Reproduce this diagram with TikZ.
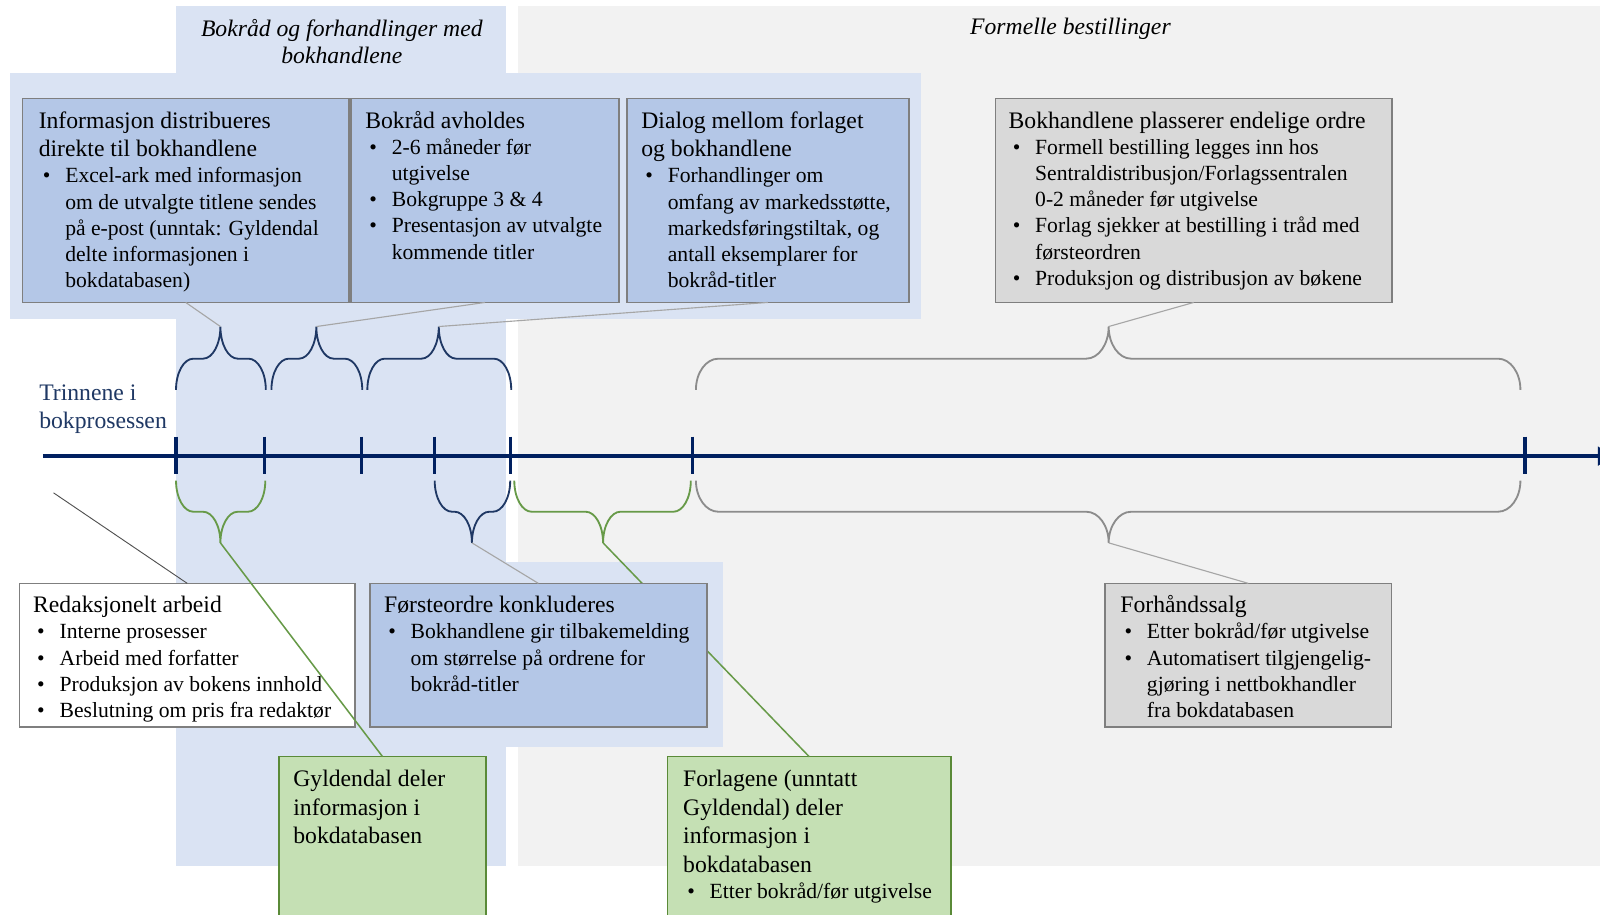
\documentclass[tikz,border=0pt]{standalone}
\usepackage{fontspec}
\setmainfont{Liberation Serif}
\usetikzlibrary{arrows.meta}
\definecolor{bgblue}{HTML}{DAE3F3}
\definecolor{boxblue}{HTML}{B4C7E7}
\definecolor{bggray}{HTML}{F2F2F2}
\definecolor{boxgray}{HTML}{D9D9D9}
\definecolor{boxgreen}{HTML}{C5E0B4}
\definecolor{grnborder}{HTML}{5A8A38}
\definecolor{grnline}{HTML}{679A48}
\definecolor{tlnavy}{HTML}{002060}
\definecolor{brnavy}{HTML}{1F3864}
\definecolor{bordergray}{HTML}{7F7F7F}
\definecolor{linegray}{HTML}{A6A6A6}
\definecolor{bracegray}{HTML}{8C8C8C}
\definecolor{darkline}{HTML}{505050}
\newcommand\tfnt{\fontsize{23.2pt}{28pt}\selectfont}
\newcommand\bfnt{\fontsize{21.2pt}{25.6pt}\selectfont}
\newcommand\TLine[1]{\baselineskip=28pt\relax\hbox{\tfnt #1}}
\newcommand\BLine[1]{\baselineskip=25.7pt\relax\hbox{\bfnt\makebox[26pt][l]{\hspace{4pt}\textbullet}#1}}
\newcommand\CLine[1]{\baselineskip=25.7pt\relax\hbox{\bfnt\hspace*{26pt}#1}}
\newcommand\brc[9]{%
  \draw[#9] (#1,#4) .. controls (#1,{#4+0.552*(#5-#4)}) and ({#1+0.448*#7},#5) .. ({#1+#7},#5)
    -- ({#2-#7},#5) .. controls ({#2-0.448*#7},#5) and (#2,{#6+0.552*(#5-#6)}) .. (#2,#6)
    .. controls (#2,{#6+0.552*(#5-#6)}) and ({#2+0.448*#7},#5) .. ({#2+#7},#5)
    -- ({#3-#7},#5) .. controls ({#3-0.448*#7},#5) and (#3,{#4+0.552*(#5-#4)}) .. (#3,#4);
  \coordinate (#8) at (#2,#6);}
\tikzset{
  boxsty/.style={draw=bordergray, line width=1.6pt, anchor=north west, inner sep=0pt, outer sep=0pt},
  bluebox/.style={boxsty, fill=boxblue},
  graybox/.style={boxsty, fill=boxgray},
  whitebox/.style={boxsty, fill=white},
  greenbox/.style={boxsty, draw=grnborder, fill=boxgreen},
  txt/.style={anchor=base west, inner sep=0pt, outer sep=0pt},
  navybrace/.style={draw=brnavy, line width=1.8pt},
  greenbrace/.style={draw=grnline, line width=1.8pt},
  graybrace/.style={draw=bracegray, line width=1.8pt},
  conn/.style={draw=linegray, line width=1.1pt},
  gconn/.style={draw=grnline, line width=1.5pt},
  darkconn/.style={draw=darkline, line width=0.9pt},
  tick/.style={draw=tlnavy, line width=3.2pt},
}
\begin{document}
\begin{tikzpicture}[x=1pt, y=-1pt]
\useasboundingbox (0,0) rectangle (1568,896);
\clip (0,0) rectangle (1568,896);
\fill[white] (0,0) rectangle (1568,896);
% backgrounds
\fill[bggray] (508,6) rectangle (1568,848.4);
\fill[bgblue] (172.5,6) rectangle (496.3,848.4);
\fill[bgblue] (9.6,72) rectangle (902.6,313);
\fill[bgblue] (480,551) rectangle (708.7,731.7);
% headings
\node[anchor=base, inner sep=0pt] (h1) at (335,35.3)
  {\vtop{\baselineskip=27.4pt\halign{\hfil#\hfil\cr\tfnt\itshape Bokråd og forhandlinger med\cr\tfnt\itshape bokhandlene\cr}}};
\node[anchor=base, inner sep=0pt] (h2) at (1049,33.6) {\tfnt\itshape Formelle bestillinger};
\node[txt, text=brnavy] (trinn) at (38.5,392)
  {\vtop{\TLine{Trinnene i}\TLine{bokprosessen}}};
% timeline
\coordinate (tl0) at (42,447);
\coordinate (tl1) at (1580,447);
\draw[tlnavy, line width=4.2pt, -{Triangle[width=18pt,length=14pt]}] (tl0) -- (tl1);
\foreach \x in {172.5,259.5,354.5,426,500,679,1494.5}
  \draw[tick] (\x,428) -- (\x,464.5);
% braces
\brc{172.5}{216}{260.5}{382}{351.5}{320}{17}{u1}{navybrace}
\brc{266}{310}{355}{382}{351.5}{320}{17}{u2}{navybrace}
\brc{360}{430}{501}{382}{351.5}{320}{17}{u3}{navybrace}
\brc{682}{1086.5}{1490}{382}{351.5}{320}{22}{u4}{graybrace}
\brc{172.5}{216}{260}{471}{501.5}{532}{17}{d1}{greenbrace}
\brc{426}{462.5}{500}{471}{501.5}{532}{17}{d2}{navybrace}
\brc{504}{591}{677}{471}{501.5}{532}{17}{d3}{greenbrace}
\brc{682}{1086.5}{1490}{471}{501.5}{532}{22}{d4}{graybrace}
% top boxes
\node[bluebox, minimum width=320pt, minimum height=200pt] (bA) at (22,96.4) {};
\node[bluebox, minimum width=262.6pt, minimum height=200pt] (bB) at (344,96.4) {};
\node[bluebox, minimum width=276.3pt, minimum height=200pt] (bC) at (614.3,96.4) {};
\node[graybox, minimum width=388.3pt, minimum height=200pt] (bD) at (975.7,96.4) {};
\draw[conn] (bA.south) -- (u1);
\draw[conn] (bB.south) -- (u2);
\draw[conn] (bC.south) -- (u3);
\draw[conn] (bD.south) -- (u4);
% lower boxes
\node[greenbox, minimum width=278pt, minimum height=200pt] (bL) at (654,741.5) {};
\draw[gconn] (d3) -- (bL.north);
\node[bluebox, minimum width=330.4pt, minimum height=141pt] (bF) at (362.4,571.7) {};
\draw[conn] (d2) -- (bF.north);
\node[whitebox, minimum width=329pt, minimum height=141pt] (bR) at (19,571.7) {};
\coordinate (rfree) at (52.5,483);
\draw[darkconn] (rfree) -- (bR.north);
\node[greenbox, minimum width=203pt, minimum height=200pt] (bG) at (273.4,741.5) {};
\draw[gconn] (d1) -- (bG.north);
\node[graybox, minimum width=280.7pt, minimum height=141pt] (bS) at (1083,571.7) {};
\draw[conn] (d4) -- (bS.north);
% texts
\node[txt] (tA) at (38,125.5) {\vtop{%
  \TLine{Informasjon distribueres}\TLine{direkte til bokhandlene}%
  \BLine{Excel-ark med informasjon}\CLine{om de utvalgte titlene sendes}%
  \CLine{på e-post (unntak: Gyldendal}\CLine{delte informasjonen i}\CLine{bokdatabasen)}}};
\node[txt] (tB) at (358,125.5) {\vtop{%
  \TLine{Bokråd avholdes}%
  \BLine{2-6 måneder før}\CLine{utgivelse}\BLine{Bokgruppe 3 \& 4}%
  \BLine{Presentasjon av utvalgte}\CLine{kommende titler}}};
\node[txt] (tC) at (628.5,125.5) {\vtop{%
  \TLine{Dialog mellom forlaget}\TLine{og bokhandlene}%
  \BLine{Forhandlinger om}\CLine{omfang av markedsstøtte,}%
  \CLine{markedsføringstiltak, og}\CLine{antall eksemplarer for}\CLine{bokråd-titler}}};
\node[txt] (tD) at (988.5,125.5) {\vtop{%
  \TLine{Bokhandlene plasserer endelige ordre}%
  \BLine{Formell bestilling legges inn hos}\CLine{Sentraldistribusjon/Forlagssentralen}%
  \CLine{0-2 måneder før utgivelse}\BLine{Forlag sjekker at bestilling i tråd med}%
  \CLine{førsteordren}\BLine{Produksjon og distribusjon av bøkene}}};
\node[txt] (tR) at (32.5,600.4) {\vtop{%
  \TLine{Redaksjonelt arbeid}%
  \BLine{Interne prosesser}\BLine{Arbeid med forfatter}%
  \BLine{Produksjon av bokens innhold}\BLine{Beslutning om pris fra redaktør}}};
\node[txt] (tF) at (376.5,600.4) {\vtop{%
  \TLine{Førsteordre konkluderes}%
  \BLine{Bokhandlene gir tilbakemelding}\CLine{om størrelse på ordrene for}\CLine{bokråd-titler}}};
\node[txt] (tS) at (1098,600.4) {\vtop{%
  \TLine{Forhåndssalg}%
  \BLine{Etter bokråd/før utgivelse}\BLine{Automatisert tilgjengelig-}%
  \CLine{gjøring i nettbokhandler}\CLine{fra bokdatabasen}}};
\node[txt] (tG) at (287.5,771) {\vtop{%
  \TLine{Gyldendal deler}\TLine{informasjon i}\TLine{bokdatabasen}}};
\node[txt] (tL) at (669.5,771) {\vtop{%
  \TLine{Forlagene (unntatt}\TLine{Gyldendal) deler}\TLine{informasjon i}\TLine{bokdatabasen}%
  \BLine{Etter bokråd/før utgivelse}}};
\end{tikzpicture}
\end{document}
